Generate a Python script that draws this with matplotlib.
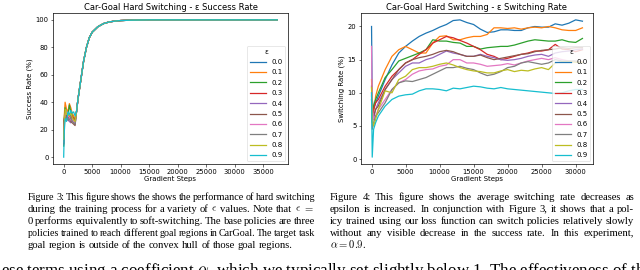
import matplotlib
matplotlib.use('Agg')
import matplotlib.pyplot as plt

plt.rcParams['mathtext.fontset'] = 'cm'

eps_labels = ['0.0', '0.1', '0.2', '0.3', '0.4', '0.5', '0.6', '0.7', '0.8', '0.9']

# ---- success rate (%) ----
su_steps = [0, 100, 250, 500, 750, 1000, 1250, 1500, 1750, 2000,
            2250, 2500, 3000, 3500, 4000, 4500, 5000, 6000, 7000, 8000,
            9000, 10000, 12000, 15000, 20000, 25000, 30000, 35000, 37500]
su_early = [
    [10, 25, 33, 30, 28, 31, 30, 28, 27, 26],
    [15, 30, 40, 35, 33, 39, 36, 32, 30, 28],
    [8, 28, 36, 32, 30, 38, 33, 30, 28, 27],
    [12, 26, 34, 31, 29, 30, 28, 30, 28, 26],
    [10, 24, 30, 28, 27, 26, 25, 27, 25, 24],
    [9, 27, 32, 29, 27, 28, 26, 25, 24, 23],
    [14, 22, 31, 33, 30, 29, 27, 28, 26, 25],
    [11, 25, 29, 27, 28, 27, 29, 26, 25, 24],
    [13, 23, 35, 31, 32, 30, 32, 29, 27, 26],
    [0, 18, 28, 26, 33, 31, 34, 32, 33, 30],
]
su_tail = [33, 42, 56, 70, 80, 87, 91, 95, 97.3, 98.5,
           99.1, 99.5, 99.8, 100, 100, 100, 100, 100, 100]

# ---- switching rate (%) ----
sw_steps = [0, 100, 300, 600] + list(range(1000, 32000, 1000))
sw_vals = [
    [20.0, 9.0, 7.5, 8.5, 9.5, 12.0, 14.2, 16.0, 17.0, 17.8, 18.5, 19.0, 19.4, 19.9, 20.3, 20.9, 21.0, 20.6, 20.3,
     19.6, 19.1, 19.2, 19.5, 19.5, 19.4, 19.4, 19.8, 20.0, 19.9, 19.9, 20.4, 20.2, 20.5, 21.0, 20.8],
    [12.0, 8.0, 7.0, 9.5, 11.0, 13.5, 15.5, 16.5, 17.0, 16.5, 16.0, 16.0, 17.5, 18.5, 18.6, 18.0, 18.0, 18.3, 18.5,
     18.5, 18.8, 19.8, 19.8, 19.7, 19.8, 19.6, 19.8, 19.9, 19.8, 20.0, 19.8, 19.5, 19.4, 19.4, 19.8],
    [9.5, 7.0, 8.0, 9.0, 10.0, 12.3, 13.5, 14.8, 15.2, 15.6, 16.0, 16.5, 18.0, 17.8, 17.8, 17.6, 17.5, 17.0, 17.0,
     16.6, 16.8, 16.9, 17.0, 17.0, 17.2, 17.5, 17.8, 18.0, 17.9, 17.8, 17.8, 18.0, 17.7, 17.6, 18.2],
    [10.0, 6.0, 7.5, 8.5, 9.0, 11.0, 12.5, 13.5, 14.5, 15.0, 15.8, 16.5, 17.5, 18.0, 18.5, 18.3, 17.9, 17.5, 17.0,
     16.5, 15.8, 15.5, 15.0, 15.2, 15.5, 15.8, 16.0, 16.3, 16.3, 16.5, 17.3, 16.6, 16.5, 16.2, 16.5],
    [9.0, 7.0, 6.0, 7.5, 8.5, 10.5, 12.0, 13.0, 14.0, 14.5, 14.5, 15.0, 15.3, 15.8, 16.3, 16.0, 15.8, 15.5, 15.5,
     15.8, 15.5, 15.3, 15.0, 14.9, 15.0, 15.2, 15.5, 15.7, 15.8, 15.5, 16.0, 16.2, 16.3, 16.5, 16.6],
    [11.0, 5.5, 6.5, 7.5, 8.0, 10.5, 12.0, 13.5, 14.5, 15.0, 15.3, 15.5, 15.8, 16.2, 16.4, 16.2, 15.8, 15.5, 15.5,
     15.7, 15.3, 15.0, 15.2, 15.4, 15.6, 15.8, 15.9, 16.2, 16.4, 16.5, 16.6, 16.8, 16.7, 16.8, 16.8],
    [17.0, 8.0, 6.0, 6.5, 7.5, 9.0, 10.5, 11.5, 12.0, 12.8, 13.3, 13.5, 13.6, 14.0, 14.2, 15.0, 15.0, 14.5, 14.5,
     14.3, 14.0, 14.1, 14.2, 14.4, 14.2, 14.5, 14.8, 15.0, 15.2, 15.0, 15.3, 15.0, 14.8, 14.7, 14.7],
    [9.0, 4.5, 5.5, 6.5, 7.0, 8.5, 10.5, 11.5, 11.8, 11.7, 12.0, 12.3, 12.8, 13.3, 13.8, 13.8, 14.0, 13.7, 13.5,
     13.0, 12.6, 12.8, 13.2, 13.8, 14.0, 14.5, 14.7, 14.5, 14.3, 14.5, 15.0, 14.8, 14.8, 14.8, 14.5],
    [10.8, 6.0, 5.0, 6.0, 7.5, 10.3, 10.0, 12.0, 12.5, 13.5, 13.8, 13.8, 14.0, 14.3, 14.5, 14.2, 13.8, 13.5, 13.3,
     13.2, 13.0, 13.0, 13.3, 13.5, 13.2, 13.4, 13.3, 13.6, 13.8, 13.5, 14.5, 14.7, 14.7, 14.6, 14.6],
    [10.0, 0.3, 4.5, 5.5, 6.5, 8.0, 9.0, 9.5, 9.7, 9.8, 10.3, 10.6, 10.6, 10.5, 10.3, 10.7, 10.6, 10.8, 11.0,
     10.9, 10.7, 10.6, 10.8, 10.6, 10.5, 10.4, 10.3, 10.2, 10.1, 10.0, 9.9, 10.0, 10.3, 10.5, 10.5],
]

cap_left = [
    "Figure 3: This figure shows the shows the performance of hard switching",
    r"during the training process for a variety of $\epsilon$ values.  Note that $\epsilon$ $=$",
    "0 performs equivalently to soft-switching.  The base policies are three",
    "policies trained to reach different goal regions in CarGoal. The target task",
    "goal region is outside of the convex hull of those goal regions.",
]
cap_right = [
    "Figure 4:  This figure shows the average switching rate decreases as",
    "epsilon is increased. In conjunction with Figure 3, it shows that a pol-",
    "icy trained using our loss function can switch policies relatively slowly",
    "without any visible decrease in the success rate.  In this experiment,",
    r"$\alpha=0.9$.",
]
body_text = r"ese terms using a coefficient $\alpha$, which we typically set slightly below 1. The effectiveness of th"

W, H = 640, 270
fig = plt.figure(figsize=(6.4, 2.7), dpi=100)


def box(l, t, r, b):
    return [l / W, 1 - b / H, (r - l) / W, (b - t) / H]


ax1 = fig.add_axes(box(53, 13, 288, 164))
ax2 = fig.add_axes(box(361, 13, 593, 164))

for lab, early in zip(eps_labels, su_early):
    ax1.plot(su_steps, early + su_tail, lw=0.9, label=lab)
for lab, ys in zip(eps_labels, sw_vals):
    ax2.plot(sw_steps, ys, lw=0.9, label=lab)

ax1.set_title('Car-Goal Hard Switching - ε Success Rate', fontsize=6.0, pad=2.5)
ax2.set_title('Car-Goal Hard Switching - ε Switching Rate', fontsize=6.0, pad=2.5)
ax1.set_ylabel('Success Rate (%)', fontsize=5.0, labelpad=2)
ax2.set_ylabel('Switching Rate (%)', fontsize=5.0, labelpad=2)
ax1.set_xticks(range(0, 35001, 5000))
ax2.set_xticks(range(0, 30001, 5000))
ax2.set_yticks(range(0, 21, 5))

for ax in (ax1, ax2):
    ax.set_xlabel('Gradient Steps', fontsize=5.0, labelpad=1.2)
    ax.tick_params(labelsize=4.9, length=1.8, width=0.4, pad=1.5)
    for s in ax.spines.values():
        s.set_linewidth(0.5)
    leg = ax.legend(title='ε', fontsize=5.0, title_fontsize=5.0, loc='lower right',
                    handlelength=2.3, borderaxespad=0.4, labelspacing=0.63)
    leg.get_frame().set_linewidth(0.4)

# captions, justified by hand
fig.canvas.draw()
rend = fig.canvas.get_renderer()
cap_base = [199.5, 211.5, 223.5, 235.5, 247.5]
serif = 'Liberation Serif'


def word_widths(line, size):
    arts = [fig.text(0, 0, w, fontsize=size, family=serif) for w in line.split()]
    ws = [a.get_window_extent(rend).width for a in arts]
    for a in arts:
        a.remove()
    return ws


fit = []
for lines, x0, x1 in ((cap_left, 28, 315), (cap_right, 330, 634)):
    for line in lines[:-1]:
        ws = word_widths(line, 10)
        nat = sum(ws) + 10 * 100 / 72 * 0.25 * (len(ws) - 1)
        fit.append(10 * (x1 - x0) / nat)
cap_size = sum(fit) / len(fit)


def justify(lines, x0, x1, size):
    em = size * 100 / 72
    for i, line in enumerate(lines):
        words = line.split()
        widths = word_widths(line, size)
        sz = size
        if i < len(lines) - 1:
            # shrink a line slightly if it would be too tight
            while (x1 - x0 - sum(widths)) / (len(words) - 1) < 0.15 * sz * 100 / 72:
                sz *= 0.99
                widths = word_widths(line, sz)
            gap = (x1 - x0 - sum(widths)) / (len(words) - 1)
        else:
            gap = 0.25 * em
        x = x0
        for w, wd in zip(words, widths):
            fig.text(x / W, 1 - cap_base[i] / H, w, fontsize=sz, family=serif, va='baseline')
            x += wd + gap


justify(cap_left, 28, 315, cap_size)
justify(cap_right, 330, 634, cap_size)

bt = fig.text(1 / W, 1 - 275 / H, body_text, fontsize=10, family=serif, va='baseline')
bw = bt.get_window_extent(rend).width
bt.set_fontsize(10 * 645 / bw)

fig.savefig('out.png', dpi=100)
